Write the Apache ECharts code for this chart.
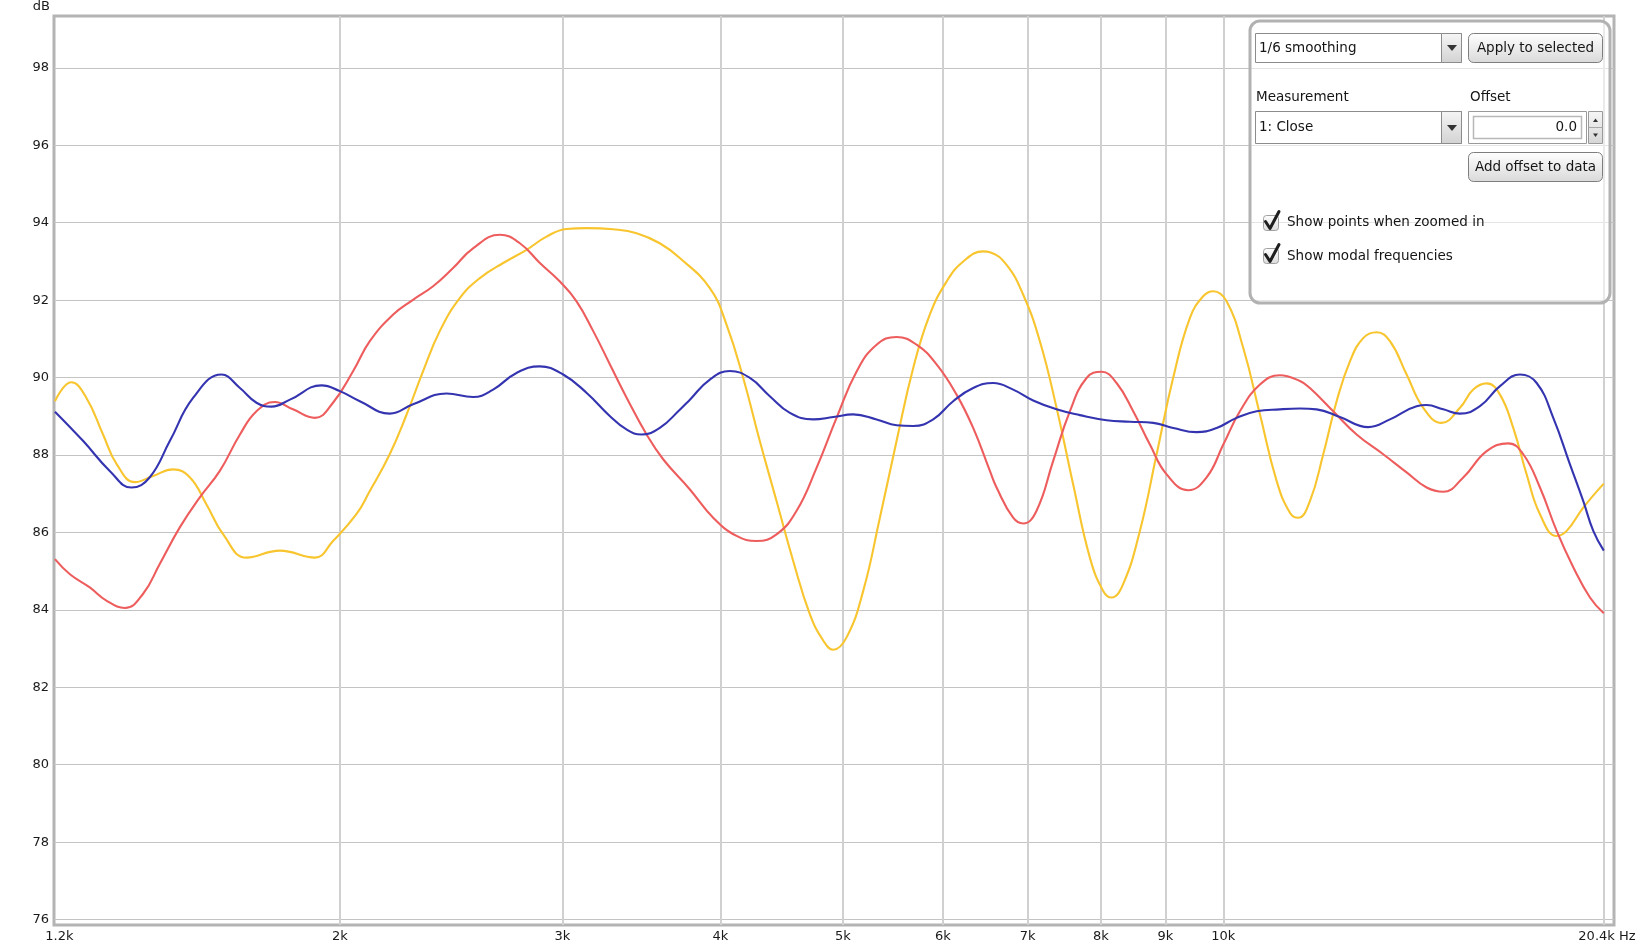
<!DOCTYPE html>
<html><head><meta charset="utf-8">
<script src="https://cdn.jsdelivr.net/npm/echarts@6/dist/echarts.min.js"></script>
<style>html,body{margin:0;padding:0;background:#fff}#c{width:1641px;height:950px}</style>
</head><body><div id="c"></div>
<script>
// ---- axis ticks / labels ----
const xGridValues = [2000, 3000, 4000, 5000, 6000, 7000, 8000, 9000, 10000, 20000];
const xLabelValues = [1190, 2000, 3000, 4000, 5000, 6000, 7000, 8000, 9000, 10000, 20300];
const xLabelTexts = ['1.2k', '2k', '3k', '4k', '5k', '6k', '7k', '8k', '9k', '10k', '20.4k Hz'];
const yTickValues = [76, 78, 80, 82, 84, 86, 88, 90, 92, 94, 96, 98];

// ---- series (frequency Hz, level dB) ----
const blueFreq = [1190,1253,1315,1368,1414,1467,1531,1612,1667,1718,1766,1826,1934,2000,2074,2190,2285,2429,2549,2644,2759,2879,3004,3134,3270,3371,3465,3582,3715,3784,3924,4070,4221,4377,4540,4737,4913,5095,5317,5514,5684,5895,6113,6340,6575,6819,7072,7380,7700,8084,8435,8801,9128,9525,9879,10245,10626,11086,11498,11853,12367,13022,13547,14222,14484,14928,15390,15961,16553,17168,17698,18242,18805,19267,19621,20000];
const blueDb = [89.12,88.36,87.59,87.16,87.42,88.36,89.48,90.08,89.73,89.35,89.25,89.43,89.80,89.65,89.39,89.07,89.31,89.59,89.50,89.69,90.12,90.29,90.08,89.61,89.01,88.66,88.53,88.70,89.17,89.43,89.95,90.17,89.99,89.52,89.09,88.92,88.98,89.05,88.92,88.77,88.75,88.92,89.39,89.73,89.86,89.69,89.41,89.18,89.03,88.90,88.86,88.83,88.70,88.59,88.70,88.96,89.13,89.18,89.20,89.18,88.98,88.72,88.92,89.26,89.29,89.18,89.07,89.26,89.78,90.08,89.86,88.96,87.76,86.81,86.04,85.53];

const yellowFreq = [1190,1226,1260,1299,1332,1377,1423,1476,1522,1568,1617,1687,1793,1911,1975,2061,2112,2190,2258,2327,2399,2488,2581,2693,2810,2914,3022,3135,3290,3434,3582,3715,3924,4045,4170,4298,4431,4567,4708,4824,4913,5034,5189,5349,5514,5684,5859,6040,6226,6457,6536,6738,6945,7159,7380,7607,7842,8034,8158,8333,8590,8856,9128,9410,9640,9818,10060,10369,10690,11020,11290,11462,11709,11997,12293,12595,12903,13222,13547,13965,14394,14885,15390,15767,16157,16553,16959,17378,17805,18355,18693,19267,20000];
const yellowDb = [89.39,89.88,89.48,88.53,87.76,87.30,87.46,87.63,87.42,86.73,85.95,85.35,85.53,85.35,85.78,86.47,87.07,88.02,89.04,90.16,91.20,92.05,92.57,92.96,93.30,93.64,93.84,93.86,93.83,93.73,93.47,93.09,92.31,91.37,89.99,88.36,86.81,85.27,83.89,83.21,82.97,83.29,84.49,86.38,88.36,90.25,91.63,92.48,93.00,93.26,93.24,92.91,92.14,90.94,89.22,87.24,85.35,84.49,84.32,84.67,86.04,88.02,90.00,91.54,92.10,92.23,91.97,90.77,89.05,87.33,86.51,86.38,86.81,88.02,89.39,90.42,91.02,91.17,90.94,90.08,89.22,88.83,89.22,89.69,89.85,89.56,88.70,87.50,86.47,85.91,86.04,86.64,87.26];

const redFreq = [1190,1223,1268,1307,1352,1397,1440,1494,1549,1607,1667,1718,1776,1836,1911,1975,2049,2112,2204,2285,2370,2458,2549,2677,2776,2879,2986,3078,3173,3271,3372,3497,3604,3784,3948,4120,4273,4431,4596,4766,4943,5127,5317,5514,5719,5931,6151,6340,6536,6616,6819,6945,7116,7335,7561,7795,8011,8233,8486,8748,9019,9381,9700,10000,10307,10690,11086,11498,11709,12217,12749,13382,13965,14484,14928,15483,16157,16806,17271,17805,18355,18919,19503,20000];
const redDb = [85.31,84.92,84.58,84.24,84.05,84.41,85.18,86.13,86.90,87.59,88.53,89.13,89.37,89.18,88.96,89.35,90.17,90.94,91.63,92.01,92.36,92.83,93.34,93.69,93.47,92.96,92.48,91.97,91.20,90.34,89.48,88.53,87.89,87.11,86.38,85.91,85.78,85.95,86.56,87.67,88.96,90.16,90.85,91.05,90.85,90.34,89.56,88.70,87.59,87.16,86.38,86.23,86.56,87.85,89.13,89.99,90.15,89.86,89.13,88.27,87.50,87.09,87.42,88.27,89.13,89.82,90.06,89.91,89.73,89.13,88.53,88.02,87.55,87.16,87.05,87.42,88.10,88.30,88.02,87.16,86.04,85.10,84.32,83.91];

const FONT = '"DejaVu Sans", "Noto Sans", sans-serif';

function pairs(f, d) { return f.map((v, i) => [v, d[i]]); }
function lineSeries(name, f, d, color, z) {
  return { type: 'line', name: name, data: pairs(f, d), symbol: 'none', smooth: 0.45,
           lineStyle: { color: color, width: 2.1 }, itemStyle: { color: color }, z: z,
           silent: true, animation: false };
}

function xLabel(v) {
  let best = 0, bd = Infinity;
  xLabelValues.forEach((t, i) => { const dd = Math.abs(Math.log(t) - Math.log(v)); if (dd < bd) { bd = dd; best = i; } });
  const txt = xLabelTexts[best];
  if (best === 0) return '{a|' + txt + '}';
  if (best === xLabelTexts.length - 1) return '{b|' + txt + '}';
  return txt;
}

const grad = (c1, c2) => ({ type: 'linear', x: 0, y: 0, x2: 0, y2: 1, colorStops: [{ offset: 0, color: c1 }, { offset: 1, color: c2 }] });
const txt = (s, x, y, align) => ({ type: 'text', z: 102, style: { text: s, x: x, y: y, fill: '#151515', font: '13.5px ' + FONT, align: align || 'left', verticalAlign: 'middle' } });

const panel = [
  { type: 'rect', z: 100, shape: { x: 1250, y: 21, width: 360, height: 282, r: 10 }, style: { fill: 'rgba(255,255,255,0.55)', stroke: '#b2b2b2', lineWidth: 3 } },
  // smoothing combo
  { type: 'rect', z: 101, shape: { x: 1255.5, y: 33.5, width: 206, height: 29 }, style: { fill: '#fff', stroke: '#8c8c8c', lineWidth: 1 } },
  { type: 'rect', z: 101, shape: { x: 1441.5, y: 33.5, width: 20, height: 29 }, style: { fill: grad('#f6f6f6', '#d2d2d2'), stroke: '#8c8c8c', lineWidth: 1 } },
  { type: 'polygon', z: 102, shape: { points: [[1447, 45], [1457, 45], [1452, 51]] }, style: { fill: '#333' } },
  txt('1/6 smoothing', 1259, 48),
  // apply button
  { type: 'rect', z: 101, shape: { x: 1468.5, y: 33.5, width: 134, height: 29, r: 5 }, style: { fill: grad('#ffffff', '#d9d9d9'), stroke: '#7e7e7e', lineWidth: 1 } },
  txt('Apply to selected', 1535.5, 48, 'center'),
  txt('Measurement', 1256, 97),
  txt('Offset', 1470, 97),
  // measurement combo
  { type: 'rect', z: 101, shape: { x: 1255.5, y: 111.5, width: 206, height: 32 }, style: { fill: '#fff', stroke: '#8c8c8c', lineWidth: 1 } },
  { type: 'rect', z: 101, shape: { x: 1441.5, y: 111.5, width: 20, height: 32 }, style: { fill: grad('#f6f6f6', '#d2d2d2'), stroke: '#8c8c8c', lineWidth: 1 } },
  { type: 'polygon', z: 102, shape: { points: [[1447, 125], [1457, 125], [1452, 131]] }, style: { fill: '#333' } },
  txt('1: Close', 1259, 127.5),
  // offset field + spinner
  { type: 'rect', z: 101, shape: { x: 1468.5, y: 111.5, width: 118, height: 32 }, style: { fill: '#fff', stroke: '#9a9a9a', lineWidth: 1 } },
  { type: 'rect', z: 101, shape: { x: 1473.5, y: 116.5, width: 108, height: 22 }, style: { fill: '#fff', stroke: '#b8b8b8', lineWidth: 1.5 } },
  txt('0.0', 1577, 127.5, 'right'),
  { type: 'rect', z: 101, shape: { x: 1588.5, y: 111.5, width: 14, height: 32 }, style: { fill: grad('#f6f6f6', '#d6d6d6'), stroke: '#9a9a9a', lineWidth: 1 } },
  { type: 'line', z: 102, shape: { x1: 1588.5, y1: 127.5, x2: 1602.5, y2: 127.5 }, style: { stroke: '#a8a8a8', lineWidth: 1 } },
  { type: 'polygon', z: 102, shape: { points: [[1593, 122], [1598, 122], [1595.5, 118.5]] }, style: { fill: '#333' } },
  { type: 'polygon', z: 102, shape: { points: [[1593, 133.5], [1598, 133.5], [1595.5, 137]] }, style: { fill: '#333' } },
  // add offset button
  { type: 'rect', z: 101, shape: { x: 1468.5, y: 152.5, width: 134, height: 29, r: 5 }, style: { fill: grad('#ffffff', '#d9d9d9'), stroke: '#7e7e7e', lineWidth: 1 } },
  txt('Add offset to data', 1535.5, 167, 'center'),
  // checkboxes
  { type: 'rect', z: 101, shape: { x: 1263.5, y: 215.5, width: 15, height: 15, r: 3 }, style: { fill: grad('#ffffff', '#dcdcdc'), stroke: '#a0a0a0', lineWidth: 1 } },
  { type: 'polyline', z: 102, shape: { points: [[1265.5, 221.5], [1270, 228.5], [1279, 211.5]] }, style: { stroke: '#1e1e1e', lineWidth: 3, fill: null, lineJoin: 'round', lineCap: 'round' } },
  txt('Show points when zoomed in', 1287, 222),
  { type: 'rect', z: 101, shape: { x: 1263.5, y: 248.5, width: 15, height: 15, r: 3 }, style: { fill: grad('#ffffff', '#dcdcdc'), stroke: '#a0a0a0', lineWidth: 1 } },
  { type: 'polyline', z: 102, shape: { points: [[1265.5, 254.5], [1270, 261.5], [1279, 244.5]] }, style: { stroke: '#1e1e1e', lineWidth: 3, fill: null, lineJoin: 'round', lineCap: 'round' } },
  txt('Show modal frequencies', 1287, 256)
];

const chart = echarts.init(document.getElementById('c'), null, { renderer: 'canvas' });
chart.setOption({
  animation: false,
  backgroundColor: '#ffffff',
  textStyle: { fontFamily: FONT },
  grid: { left: 54, right: 27, top: 14, bottom: 25, show: true, borderColor: '#b4b4b4', borderWidth: 3, backgroundColor: 'transparent' },
  xAxis: {
    type: 'log', min: 1188, max: 20376, logBase: 10,
    axisLine: { show: false },
    axisTick: { show: false, customValues: xGridValues },
    splitLine: { show: true, lineStyle: { color: '#d0d0d0', width: 2 } },
    axisLabel: {
      customValues: xLabelValues, formatter: xLabel, margin: 5,
      color: '#1a1a1a', fontSize: 13, fontFamily: FONT,
      rich: { a: { fontSize: 13, fontFamily: FONT, color: '#1a1a1a', padding: [0, 0, 0, 9] },
              b: { fontSize: 13, fontFamily: FONT, color: '#1a1a1a', padding: [0, 10, 0, 0] } }
    }
  },
  yAxis: {
    type: 'value', min: 75.86, max: 99.34,
    name: 'dB', nameLocation: 'end', nameGap: 3,
    nameTextStyle: { color: '#1a1a1a', fontSize: 13, fontFamily: FONT, align: 'right', verticalAlign: 'bottom', padding: [0, 4, 0, 0] },
    axisLine: { show: false },
    axisTick: { show: false, customValues: yTickValues },
    splitLine: { show: true, lineStyle: { color: '#c4c4c4', width: 1 } },
    axisLabel: { customValues: yTickValues, margin: 5, color: '#1a1a1a', fontSize: 13, fontFamily: FONT }
  },
  series: [
    lineSeries('Yellow', yellowFreq, yellowDb, '#f8c52e', 2),
    lineSeries('Red', redFreq, redDb, '#ee5d5d', 3),
    lineSeries('Blue', blueFreq, blueDb, '#3434b0', 4)
  ],
  graphic: { elements: panel }
});
</script>
</body></html>
